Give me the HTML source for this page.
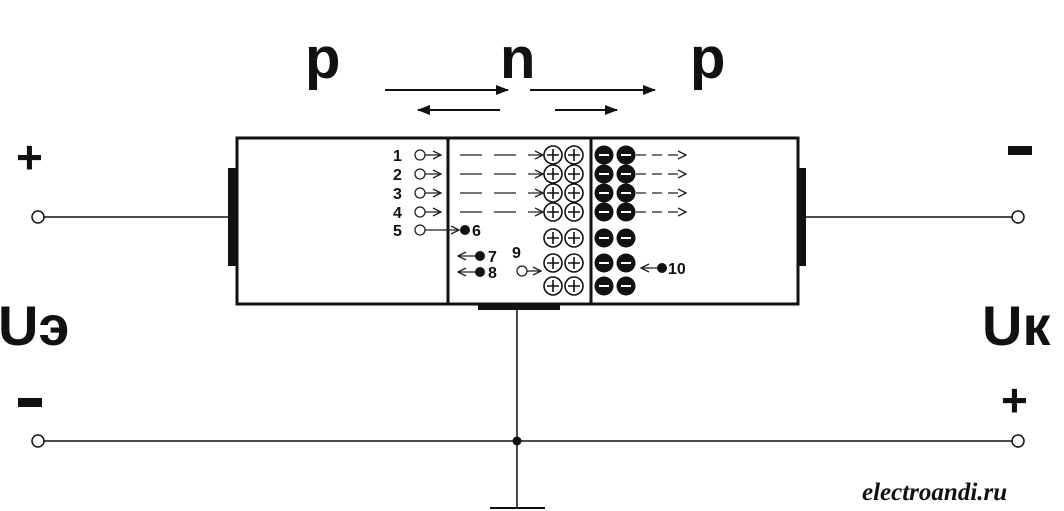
<!DOCTYPE html>
<html><head><meta charset="utf-8"><style>
body{margin:0;background:#fff}
svg{display:block}
text{font-family:"Liberation Sans",sans-serif;font-weight:bold;fill:#111}
</style></head><body>
<svg width="1064" height="511" viewBox="0 0 1064 511">
<defs><marker id="ah" markerWidth="10" markerHeight="10" refX="9" refY="5" orient="auto" markerUnits="userSpaceOnUse"><path d="M1,1 L9,5 L1,9" fill="none" stroke="#222" stroke-width="1.3"/></marker>
<marker id="ahb" markerWidth="14" markerHeight="12" refX="12" refY="6" orient="auto" markerUnits="userSpaceOnUse"><path d="M0,1 L13,6 L0,11 Z" fill="#111"/></marker></defs>
<g stroke="#111" fill="none">
<rect x="237" y="138" width="561" height="166" stroke-width="3"/>
<line x1="448" y1="138" x2="448" y2="304" stroke-width="3"/>
<line x1="591" y1="138" x2="591" y2="304" stroke-width="3"/>
<line x1="232" y1="168" x2="232" y2="266" stroke-width="8"/>
<line x1="802" y1="168" x2="802" y2="266" stroke-width="8"/>
<line x1="478" y1="307" x2="560" y2="307" stroke-width="6"/>
<line x1="44" y1="217" x2="230" y2="217" stroke-width="1.5"/>
<line x1="806" y1="217" x2="1012" y2="217" stroke-width="1.5"/>
<line x1="44" y1="441" x2="1012" y2="441" stroke-width="1.5"/>
<line x1="517" y1="309" x2="517" y2="508" stroke-width="1.5"/>
<line x1="490" y1="508" x2="545" y2="508" stroke-width="2"/>
<circle cx="38" cy="217" r="6" stroke-width="1.5" fill="#fff"/>
<circle cx="1018" cy="217" r="6" stroke-width="1.5" fill="#fff"/>
<circle cx="38" cy="441" r="6" stroke-width="1.5" fill="#fff"/>
<circle cx="1018" cy="441" r="6" stroke-width="1.5" fill="#fff"/>
<circle cx="517" cy="441" r="4" fill="#111"/>
<line x1="385" y1="90" x2="508" y2="90" stroke-width="2" marker-end="url(#ahb)"/>
<line x1="500" y1="110" x2="418" y2="110" stroke-width="2" marker-end="url(#ahb)"/>
<line x1="530" y1="90" x2="655" y2="90" stroke-width="2" marker-end="url(#ahb)"/>
<line x1="555" y1="110" x2="617" y2="110" stroke-width="2" marker-end="url(#ahb)"/>
</g>
<text x="305" y="78" font-size="58">p</text>
<text x="500" y="78" font-size="58">n</text>
<text x="690" y="78" font-size="58">p</text>
<text x="16" y="173" font-size="46">+</text>
<rect x="1008" y="146" width="24" height="9" fill="#111"/>
<text x="-2" y="345" font-size="56">Uэ</text>
<text x="982" y="345" font-size="56">Uк</text>
<rect x="18" y="398" width="24" height="9" fill="#111"/>
<text x="1001" y="416" font-size="46">+</text>
<text x="862" y="500" font-size="25" style="font-family:'Liberation Serif',serif;font-style:italic">electroandi.ru</text>
<g id="particles"></g>
</svg>
<script>
const plusRows=[155,174,193,212,238,263,286];
const plusCols=[553,574];
const minusCols=[604,626];
const labels=['1','2','3','4','5'];
const NS='http://www.w3.org/2000/svg';
const g=document.getElementById('particles');
function mk(t,a){const e=document.createElementNS(NS,t);for(const k in a)e.setAttribute(k,a[k]);g.appendChild(e);return e;}
plusRows.forEach(y=>{
 plusCols.forEach(x=>{
  const c=mk('circle',{cx:x,cy:y,r:9,fill:'#fff',stroke:'#111','stroke-width':1.6});
  
  
  mk('path',{d:`M${x-6},${y}H${x+6}M${x},${y-6}V${y+6}`,stroke:'#111','stroke-width':1.6});
 });
 minusCols.forEach(x=>{
  const c=mk('circle',{cx:x,cy:y,r:9.5,fill:'#111'});
  
  
  mk('line',{x1:x-5,y1:y,x2:x+5,y2:y,stroke:'#fff','stroke-width':2});
 });
});
const ys=[155,174,193,212,230];
ys.forEach((y,i)=>{
 const t=mk('text',{x:393,y:y+6,'font-size':16});t.textContent=labels[i];
 
 
 mk('circle',{cx:420,cy:y,r:5,fill:'#fff',stroke:'#222','stroke-width':1.3});
 if(i<4){
  mk('line',{x1:425,y1:y,x2:441,y2:y,stroke:'#222','stroke-width':1.3,'marker-end':'url(#ah)'});
  mk('line',{x1:460,y1:y,x2:543,y2:y,stroke:'#222','stroke-width':1.3,'stroke-dasharray':'22,12','marker-end':'url(#ah)'});
  mk('line',{x1:636,y1:y,x2:686,y2:y,stroke:'#222','stroke-width':1.3,'stroke-dasharray':'10,6','marker-end':'url(#ah)'});
 } else {
  mk('line',{x1:425,y1:y,x2:459,y2:y,stroke:'#222','stroke-width':1.3,'marker-end':'url(#ah)'});
  mk('circle',{cx:465,cy:y,r:5,fill:'#111'});
  const t6=mk('text',{x:472,y:y+6,'font-size':16});t6.textContent='6';
 }
});
[[256,'7'],[272,'8']].forEach(([y,l])=>{
 mk('circle',{cx:480,cy:y,r:5,fill:'#111'});
 mk('line',{x1:475,y1:y,x2:458,y2:y,stroke:'#222','stroke-width':1.3,'marker-end':'url(#ah)'});
 const t=mk('text',{x:488,y:y+6,'font-size':16});t.textContent=l;
});
const t9=mk('text',{x:512,y:258,'font-size':16});t9.textContent='9';
mk('circle',{cx:522,cy:271,r:5,fill:'#fff',stroke:'#222','stroke-width':1.3});
mk('line',{x1:527,y1:271,x2:541,y2:271,stroke:'#222','stroke-width':1.3,'marker-end':'url(#ah)'});
mk('circle',{cx:662,cy:268,r:5,fill:'#111'});
mk('line',{x1:657,y1:268,x2:641,y2:268,stroke:'#222','stroke-width':1.3,'marker-end':'url(#ah)'});
const t10=mk('text',{x:668,y:274,'font-size':16});t10.textContent='10';
</script>
</body></html>
